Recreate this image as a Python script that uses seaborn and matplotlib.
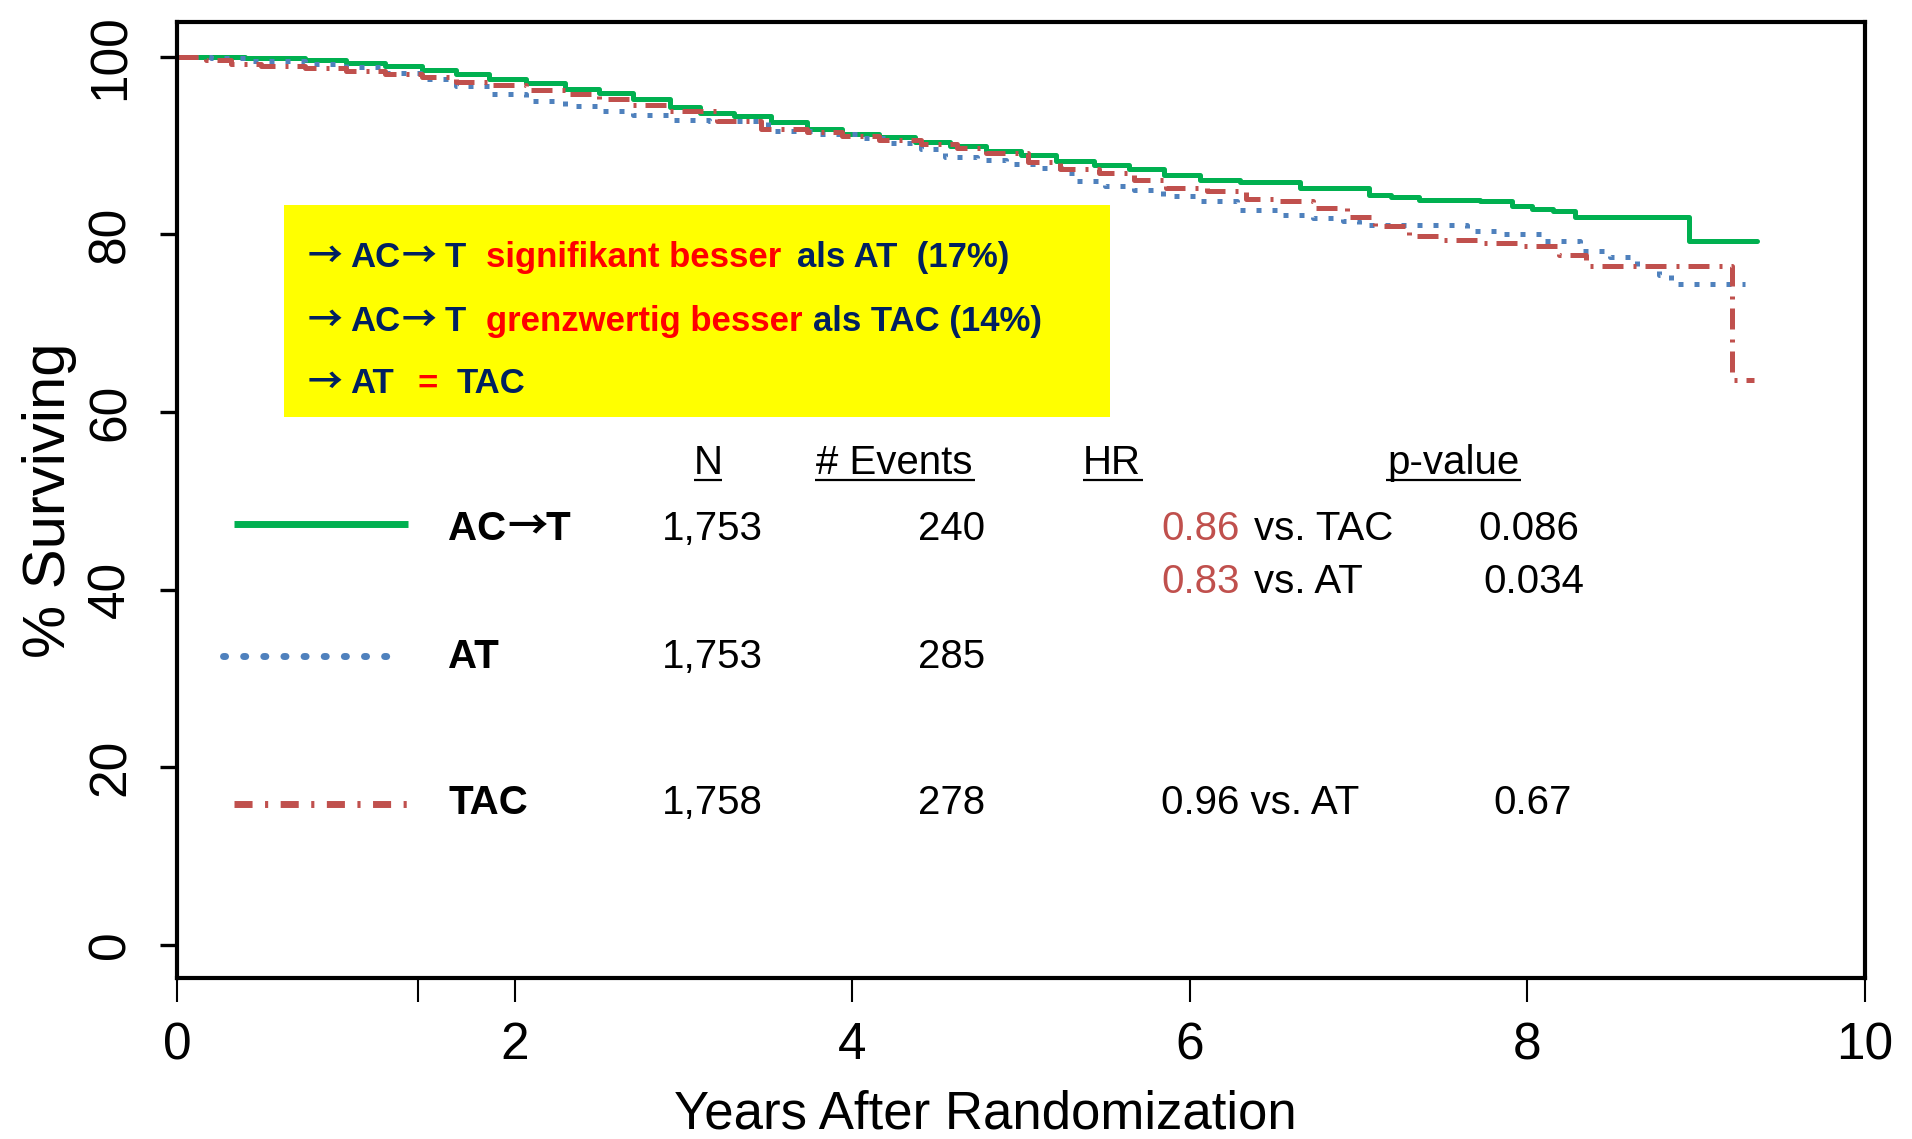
import numpy as np
import pandas as pd
import matplotlib
matplotlib.use("Agg")
import matplotlib.pyplot as plt
import seaborn as sns

# ---------------- data ----------------
act_t = [0, 0.4, 0.76, 1.0, 1.23, 1.45, 1.65, 1.85, 2.07, 2.3, 2.5, 2.7, 2.92, 3.1, 3.3, 3.52,
         3.73, 3.94, 4.16, 4.37, 4.58, 4.79, 5.0, 5.21, 5.43, 5.64, 5.85, 6.06, 6.3, 6.65, 7.06,
         7.19, 7.36, 7.72, 7.91, 8.03, 8.15, 8.28, 8.96, 9.36]
act_s = [100, 99.8, 99.6, 99.3, 98.9, 98.5, 98.0, 97.5, 97.0, 96.4, 95.9, 95.2, 94.3, 93.7, 93.3,
         92.6, 91.9, 91.3, 90.9, 90.4, 89.9, 89.4, 88.9, 88.2, 87.8, 87.3, 86.7, 86.1, 85.9, 85.2,
         84.4, 84.2, 83.9, 83.7, 83.2, 82.9, 82.6, 81.9, 79.2, 79.2]

at_t = [0, 0.2, 0.4, 0.76, 1.0, 1.23, 1.45, 1.65, 1.85, 2.07, 2.3, 2.5, 2.7, 2.92, 3.15, 3.5,
        3.79, 4.04, 4.23, 4.41, 4.55, 4.74, 4.91, 5.1, 5.25, 5.33, 5.5, 5.67, 5.84, 6.06, 6.28,
        6.55, 6.73, 6.91, 7.0, 7.45, 7.64, 7.82, 8.09, 8.31, 8.49, 8.65, 8.78, 8.85, 9.29]
at_s = [100, 99.8, 99.5, 99.2, 98.8, 98.2, 97.5, 96.7, 95.8, 95.0, 94.4, 93.9, 93.4, 92.9, 92.7,
        91.6, 91.3, 90.8, 90.3, 89.6, 88.7, 88.4, 87.9, 87.5, 86.9, 86.0, 85.4, 85.0, 84.3, 83.7,
        82.7, 82.2, 81.8, 81.5, 81.1, 81.0, 80.4, 80.0, 79.2, 78.1, 77.4, 76.4, 75.4, 74.4, 74.4]

tac_t = [0, 0.17, 0.32, 0.5, 0.76, 1.0, 1.23, 1.45, 1.65, 1.85, 2.07, 2.3, 2.5, 2.7, 2.92, 3.2,
         3.46, 3.73, 3.94, 4.16, 4.41, 4.62, 4.79, 5.04, 5.23, 5.46, 5.67, 5.86, 6.1, 6.33, 6.5,
         6.73, 6.93, 7.1, 7.3, 7.49, 7.74, 7.96, 8.19, 8.35, 9.21, 9.34]
tac_s = [100, 99.6, 99.2, 99.0, 98.7, 98.4, 98.1, 97.7, 97.2, 96.8, 96.3, 95.8, 95.2, 94.6, 93.9,
         92.8, 91.9, 91.5, 91.1, 90.6, 90.2, 89.7, 89.1, 88.1, 87.4, 86.9, 86.1, 85.2, 84.9, 84.0,
         83.8, 83.0, 81.9, 80.9, 79.8, 79.4, 79.0, 78.7, 77.7, 76.4, 63.6, 63.6]

arms = ["AC\u2192T", "AT", "TAC"]
n_patients = ["1,753", "1,753", "1,758"]
n_events = ["240", "285", "278"]
x_ticks = [0, 2, 4, 6, 8, 10]
y_ticks = [0, 20, 40, 60, 80, 100]

GREEN = "#00B050"
BLUE = "#4F81BD"
RED = "#C0504D"
NAVY = "#002060"
BRIGHT_RED = "#FF0000"
ARROW = "\u2192"
ARROW_FAMILY = ["Noto Sans CJK SC", "DejaVu Sans"]

# ---------------- style ----------------
sns.set_style("ticks", {"text.color": "black", "axes.labelcolor": "black",
                        "xtick.color": "black", "ytick.color": "black",
                        "axes.edgecolor": "black"})
plt.rcParams["font.family"] = ["Liberation Sans", "DejaVu Sans"]

fig = plt.figure(figsize=(19.12, 11.39), dpi=100)
ax = fig.add_axes([0.0926, 0.1414, 0.8828, 0.8393])

lw = 3.6
sns.lineplot(x=act_t, y=act_s, ax=ax, color=GREEN, lw=lw, drawstyle="steps-post",
             estimator=None, sort=False)
sns.lineplot(x=at_t, y=at_s, ax=ax, color=BLUE, lw=lw, drawstyle="steps-post",
             estimator=None, sort=False, linestyle=(0, (1, 2.2)))
sns.lineplot(x=tac_t, y=tac_s, ax=ax, color=RED, lw=lw, drawstyle="steps-post",
             estimator=None, sort=False, linestyle=(0, (4.2, 2.0, 0.6, 1.8)))

ax.set_xlim(0, 10)
ax.set_ylim(-3.7, 103.9)
ax.set_xticks(x_ticks)
ax.set_xticklabels([str(v) for v in x_ticks], fontsize=37)
ax.set_xticks([1.43], minor=True)
ax.set_yticks(y_ticks)
ax.set_yticklabels([str(v) for v in y_ticks], fontsize=37, rotation=90, va="center")
ax.tick_params(axis="x", which="both", direction="out", length=17, width=1.5, pad=14, color="black")
ax.tick_params(axis="y", direction="out", length=12, width=2.4, pad=18, color="black")
for sp in ax.spines.values():
    sp.set_linewidth(3)
    sp.set_color("black")
ax.set_xlabel("Years After Randomization", fontsize=38, va="baseline")
ax.xaxis.set_label_coords(0.479, -0.157)
ax.set_ylabel("% Surviving", fontsize=43, labelpad=7)

# ---------------- yellow box ----------------
ax.add_patch(plt.Rectangle((0.634, 59.4), 5.53 - 0.634, 83.3 - 59.4, facecolor="#FFFF00",
                           edgecolor="none", zorder=1))
bfs = 25
box_lines = [
    (76.3, [(0.776, ARROW, NAVY), (1.025, "AC", NAVY), (1.33, ARROW, NAVY), (1.587, "T", NAVY),
            (1.83, "signifikant besser", BRIGHT_RED), (3.67, "als AT  (17%)", NAVY)]),
    (69.1, [(0.776, ARROW, NAVY), (1.025, "AC", NAVY), (1.33, ARROW, NAVY), (1.587, "T", NAVY),
            (1.83, "grenzwertig besser", BRIGHT_RED), (3.77, "als TAC (14%)", NAVY)]),
    (62.1, [(0.776, ARROW, NAVY), (1.025, "AT", NAVY), (1.427, "=", BRIGHT_RED),
            (1.659, "TAC", NAVY)]),
]
for yy, pieces in box_lines:
    for xx, s, c in pieces:
        fam = ARROW_FAMILY if s == ARROW else ["Liberation Sans", "DejaVu Sans"]
        ax.text(xx, yy, s, color=c, fontsize=bfs, fontweight="bold", ha="left",
                va="baseline", zorder=3, family=fam)

# ---------------- table ----------------
tfs = 29
headers = [("N", 3.15, 3.06, 3.23), ("# Events", 4.25, 3.78, 4.73),
           ("HR", 5.54, 5.37, 5.72), ("p-value", 7.56, 7.16, 7.96)]
for s, xc, x0, x1 in headers:
    ax.text(xc, 53.0, s, fontsize=tfs, ha="center", va="baseline")
    ax.plot([x0, x1], [52.3, 52.3], color="black", lw=1.6, solid_capstyle="butt")

row_y = [45.6, 31.2, 14.8]
leg_y = [47.4, 32.5, 15.9]
ax.plot([0.34, 1.37], [leg_y[0], leg_y[0]], color=GREEN, lw=5, solid_capstyle="butt")
ax.plot([0.27, 1.31], [leg_y[1], leg_y[1]], color=BLUE, lw=5, linestyle=(0, (0.3, 2.6)),
        dash_capstyle="round")
ax.plot([0.34, 1.37], [leg_y[2], leg_y[2]], color=RED, lw=5,
        linestyle=(0, (2.6, 1.8, 0.45, 1.8)))

for i, arm in enumerate(arms):
    if ARROW in arm:
        a, b = arm.split(ARROW)
        ax.text(1.606, row_y[i], a, fontsize=tfs, fontweight="bold", ha="left", va="baseline")
        ax.text(1.955, row_y[i], ARROW, fontsize=tfs, fontweight="bold", ha="left",
                va="baseline", family=ARROW_FAMILY)
        ax.text(2.18, row_y[i], b, fontsize=tfs, fontweight="bold", ha="left", va="baseline")
    else:
        ax.text(1.606, row_y[i], arm, fontsize=tfs, fontweight="bold", ha="left", va="baseline")
    ax.text(2.87, row_y[i], n_patients[i], fontsize=tfs, ha="left", va="baseline")
    ax.text(4.79, row_y[i], n_events[i], fontsize=tfs, ha="right", va="baseline")

hr_rows = [
    (45.6, [(5.83, "0.86", RED), (6.38, "vs. TAC", "black")], (7.71, "0.086")),
    (39.6, [(5.83, "0.83", RED), (6.38, "vs. AT", "black")], (7.74, "0.034")),
    (14.8, [(5.83, "0.96 vs. AT", "black")], (7.80, "0.67")),
]
for yy, pieces, (px, ps) in hr_rows:
    for xx, s, c in pieces:
        ax.text(xx, yy, s, color=c, fontsize=tfs, ha="left", va="baseline")
    ax.text(px, yy, ps, fontsize=tfs, ha="left", va="baseline")

fig.savefig("out.png", dpi=100)
